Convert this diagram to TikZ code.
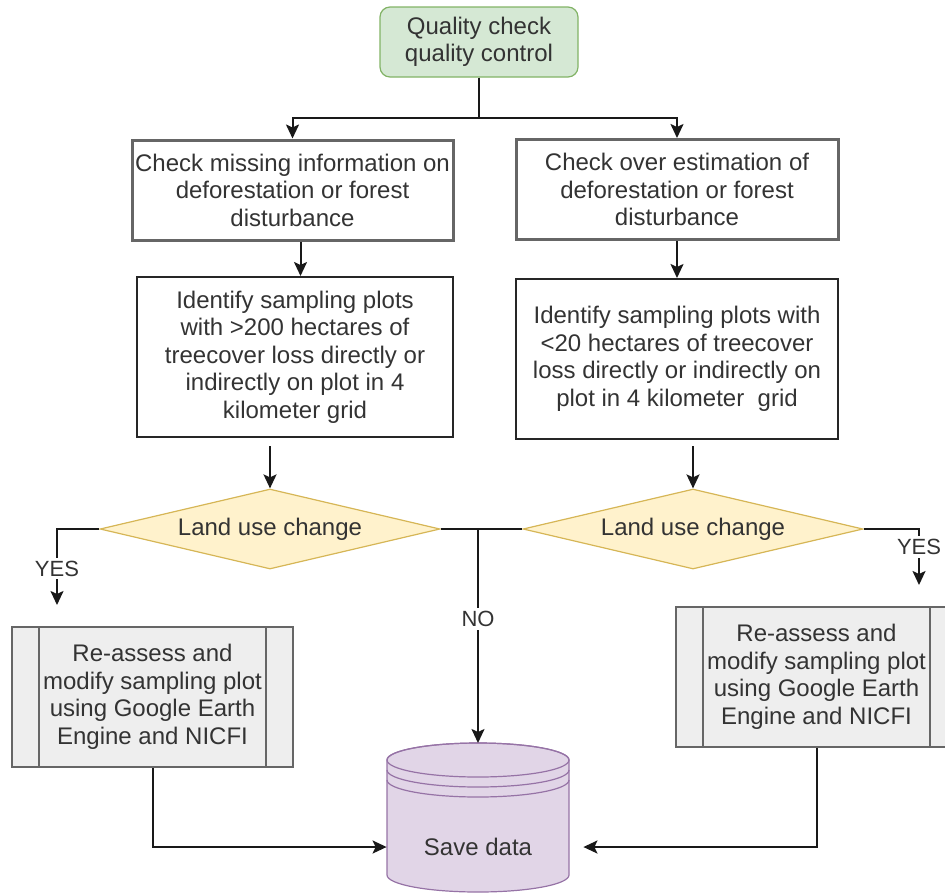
\documentclass[tikz,border=0pt]{standalone}
\usepackage{fontspec}
\setmainfont{Liberation Sans}
\usetikzlibrary{shapes.geometric,arrows.meta,calc}
\definecolor{qcfill}{HTML}{D5E8D4}
\definecolor{qcdraw}{HTML}{82B366}
\definecolor{decfill}{HTML}{FFF2CC}
\definecolor{decdraw}{HTML}{D6B656}
\definecolor{dbfill}{HTML}{E1D5E7}
\definecolor{dbdraw}{HTML}{9673A6}
\definecolor{subfill}{HTML}{EEEEEE}
\definecolor{boxgray}{HTML}{666666}
\definecolor{txtgray}{HTML}{333333}
\begin{document}
\begin{tikzpicture}[x=0.5pt,y=-0.5pt,
  font=\fontsize{12}{13.75}\selectfont, text=txtgray,
  arr/.style={draw=black!90, line width=1pt, -{Stealth[length=7pt,width=6.5pt,inset=1.5pt]}},
  ln/.style={draw=black!90, line width=1pt},
  startbox/.style={rectangle, rounded corners=5pt, draw=qcdraw, fill=qcfill, line width=0.6pt,
    minimum width=99pt, minimum height=35pt, align=center, inner sep=0pt},
  checkbox/.style={rectangle, draw=boxgray, line width=1.5pt, minimum width=160.5pt,
    minimum height=50pt, align=center, inner sep=0pt},
  plotbox/.style={rectangle, draw=black!85, line width=1pt, minimum height=80pt,
    align=center, inner sep=0pt},
  decision/.style={diamond, aspect=4.25, draw=decdraw, fill=decfill, line width=0.6pt,
    minimum width=170pt, minimum height=40pt, inner sep=0pt},
  subproc/.style={rectangle, draw=boxgray, fill=subfill, line width=1pt, minimum width=140.5pt,
    minimum height=70pt, align=center, inner sep=0pt},
  inner/.style={draw=boxgray, line width=1pt},
  cyl/.style={draw=dbdraw, line width=0.6pt},
  lbl/.style={fill=white, inner sep=1.5pt, font=\fontsize{11}{13}\selectfont}]
\useasboundingbox (0,0) rectangle (945,894);
\clip (0,0) rectangle (945,894);

\node[startbox] (qc) at (479,42) {Quality check\\quality control};
\node[checkbox] (chk1) at (292.5,190) {Check missing information on\\deforestation or forest\\disturbance};
\node[checkbox, minimum width=161pt] (chk2) at (677,189.5) {Check over estimation of\\deforestation or forest\\disturbance};
\node[plotbox, minimum width=158pt] (id1) at (295,357) {Identify sampling plots\\with >200 hectares of\\treecover loss directly or\\indirectly on plot in 4\\kilometer grid};
\node[plotbox, minimum width=161pt] (id2) at (677,359) {Identify sampling plots with\\<20 hectares of treecover\\loss directly or indirectly on\\plot in 4 kilometer\ \ grid};
\node[decision] (dia1) at (270,529) {Land use change};
\node[decision] (dia2) at (693,529) {Land use change};
\node[subproc] (re1) at (152.5,697) {Re-assess and\\modify sampling plot\\using Google Earth\\Engine and NICFI};
\node[subproc] (re2) at (816.5,677) {Re-assess and\\modify sampling plot\\using Google Earth\\Engine and NICFI};
\draw[inner] ([xshift=14pt]re1.north west) -- ([xshift=14pt]re1.south west);
\draw[inner] ([xshift=-14pt]re1.north east) -- ([xshift=-14pt]re1.south east);
\draw[inner] ([xshift=14pt]re2.north west) -- ([xshift=14pt]re2.south west);
\draw[inner] ([xshift=-14pt]re2.north east) -- ([xshift=-14pt]re2.south east);

\draw[cyl, fill=dbfill] (387,760) -- (387,875) arc[start angle=180, end angle=0, x radius=91, y radius=17]
  -- (569,760) arc[start angle=0, end angle=-180, x radius=91, y radius=17] -- cycle;
\draw[cyl] (478,760) ellipse[x radius=91, y radius=17];
\draw[cyl] (387,770) arc[start angle=180, end angle=0, x radius=91, y radius=17];
\draw[cyl] (387,780) arc[start angle=180, end angle=0, x radius=91, y radius=17];
\node[minimum width=91pt, inner sep=0pt] (save) at (478,847) {Save data};
\coordinate (cyltop) at (478,743);
\coordinate (yes1) at (57,605);
\coordinate (yes2) at (919,585);

\draw[arr] (qc.south) -- ++(0,40) -| (chk1.north);
\draw[arr] (qc.south) -- ++(0,40) -| (chk2.north);
\draw[arr] ([xshift=4pt]chk1.south) -- ([xshift=4pt]chk1.south |- id1.north);
\draw[arr] (chk2.south) -- (id2.north -| chk2.south);
\draw[arr] ($(dia1.north)+(0,-42)$) -- (dia1.north);
\draw[arr] ($(dia2.north)+(0,-42)$) -- (dia2.north);
\draw[ln] (dia1.east) -- (dia2.west);
\draw[arr] (dia1.east -| cyltop) -- node[lbl, pos=0.42] {NO} (cyltop);
\draw[arr] (dia1.west) -| node[lbl, pos=0.76] {YES} (yes1);
\draw[arr] (dia2.east) -| node[lbl, pos=0.66] {YES} (yes2);
\draw[arr] (re1.south) |- (save.west);
\draw[arr] (re2.south) |- ($(save.east)+(14,0)$);
\end{tikzpicture}
\end{document}
